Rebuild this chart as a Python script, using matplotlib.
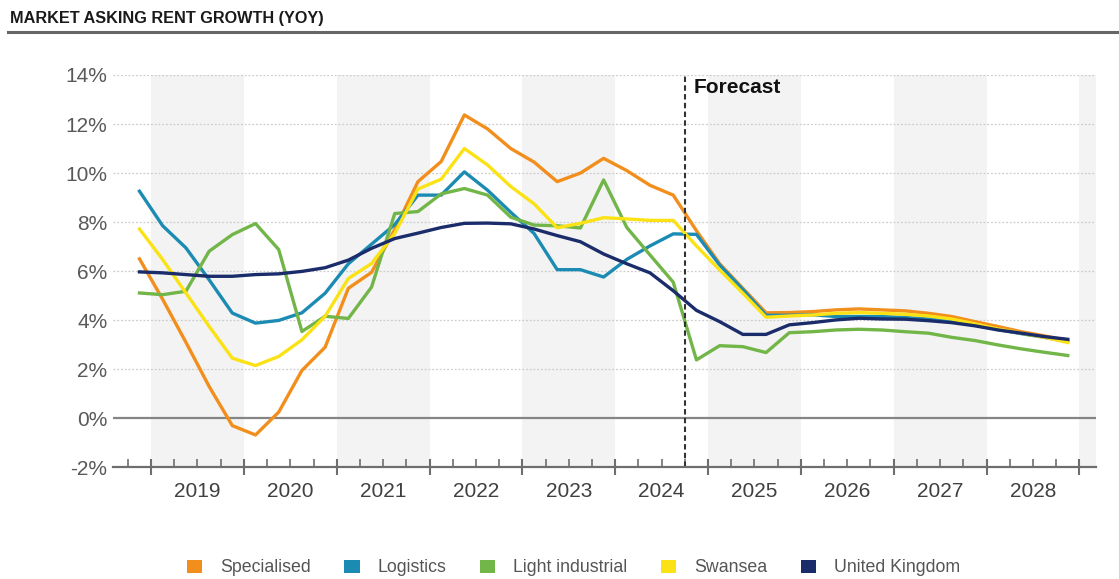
import matplotlib
matplotlib.use("Agg")
import matplotlib.pyplot as plt
from matplotlib.patches import Patch
import numpy as np
import pandas as pd

plt.rcParams['font.family'] = ['Liberation Sans', 'DejaVu Sans']

# quarterly series, 2018 Q4 .. 2028 Q4 (YoY %)
quarters = pd.period_range('2018Q4', '2028Q4', freq='Q')

specialised = [6.5, 4.85, 3.1, 1.3, -0.3, -0.68, 0.25, 1.95, 2.9, 5.3,
               5.95, 7.7, 9.65, 10.47, 12.37, 11.8, 11.0, 10.45, 9.65, 10.0,
               10.6, 10.1, 9.5, 9.1, 7.65, 6.3, 5.3, 4.3, 4.31, 4.35,
               4.42, 4.46, 4.42, 4.38, 4.28, 4.15, 3.94, 3.74, 3.53, 3.36, 3.17]
logistics = [9.26, 7.85, 6.95, 5.65, 4.29, 3.88, 3.99, 4.3, 5.1, 6.3,
             7.1, 7.9, 9.1, 9.1, 10.05, 9.3, 8.4, 7.54, 6.06, 6.06,
             5.76, 6.48, 7.03, 7.52, 7.5, 6.25, 5.25, 4.2, 4.2, 4.22,
             4.15, 4.15, 4.15, 4.11, 4.05, 3.95, 3.8, 3.62, 3.45, 3.3, 3.13]
light_industrial = [5.11, 5.04, 5.18, 6.81, 7.49, 7.94, 6.88, 3.54, 4.16, 4.07,
                    5.35, 8.35, 8.43, 9.15, 9.37, 9.1, 8.2, 7.88, 7.85, 7.76,
                    9.72, 7.78, 6.66, 5.55, 2.38, 2.96, 2.92, 2.68, 3.49, 3.53,
                    3.6, 3.63, 3.6, 3.53, 3.47, 3.3, 3.17, 2.99, 2.83, 2.69, 2.56]
swansea = [7.72, 6.47, 5.11, 3.75, 2.45, 2.15, 2.52, 3.2, 4.16, 5.7,
           6.31, 7.54, 9.35, 9.75, 11.0, 10.33, 9.45, 8.75, 7.77, 7.95,
           8.18, 8.13, 8.07, 8.07, 7.03, 6.05, 5.1, 4.12, 4.17, 4.21,
           4.28, 4.31, 4.28, 4.24, 4.17, 4.05, 3.85, 3.64, 3.47, 3.3, 3.09]
united_kingdom = [5.97, 5.93, 5.86, 5.79, 5.79, 5.86, 5.89, 5.99, 6.14, 6.45,
                  6.93, 7.33, 7.55, 7.78, 7.95, 7.96, 7.93, 7.72, 7.45, 7.2,
                  6.7, 6.3, 5.93, 5.2, 4.4, 3.94, 3.42, 3.42, 3.81, 3.9,
                  4.01, 4.08, 4.05, 4.04, 3.98, 3.9, 3.77, 3.6, 3.47, 3.33, 3.22]

series_names = ['Specialised', 'Logistics', 'Light industrial', 'Swansea', 'United Kingdom']
series_colors = ['#F28E1C', '#1C8BB3', '#72B548', '#FBE214', '#1B2C6B']
years = list(range(2019, 2029))
yticks = [-2, 0, 2, 4, 6, 8, 10, 12, 14]
forecast_start = 2024.75

# x position = middle of each quarter
x = np.array([q.year + (q.quarter - 0.5) / 4 for q in quarters])

fig = plt.figure(figsize=(11.19, 5.79), dpi=100)
ax = fig.add_axes([0.101, 0.1929, 0.8785, 0.6776])

# alternating year bands
for yr in range(2019, 2030, 2):
    ax.axvspan(yr, yr + 1, color='#f3f3f3', lw=0, zorder=0)

for yv in yticks[2:]:
    ax.axhline(yv, color='#cccccc', lw=0.9, ls=(0, (1.5, 1.5)), zorder=1)
ax.axhline(0, color='#858585', lw=1.6, zorder=1)

all_series = [specialised, logistics, light_industrial, swansea, united_kingdom]
for vals, name, col in zip(all_series, series_names, series_colors):
    ax.plot(x, vals, color=col, lw=2.4, label=name, zorder=3)

ax.axvline(forecast_start, color='#333333', lw=1.5, ls=(0, (2.6, 1.6)), zorder=4)
ax.text(forecast_start + 0.1, 13.5, 'Forecast', fontsize=15, fontweight='bold',
        va='center', ha='left', color='#111111')

ax.set_xlim(2018.59, 2029.18)
ax.set_ylim(-2, 14)

ax.set_yticks(yticks)
ax.set_yticklabels([f'{v}%' for v in yticks])
ax.tick_params(axis='y', length=0, pad=4, labelsize=15, labelcolor='#595959')

ax.set_xticks(range(2019, 2030))
ax.set_xticklabels([])
ax.set_xticks(np.arange(2018.75, 2029.0, 0.25), minor=True)
ax.tick_params(axis='x', which='major', direction='inout', length=12, width=1.5, color='#6e6e6e')
ax.tick_params(axis='x', which='minor', direction='in', length=6, width=1.2, color='#6e6e6e')

# year names sit in the middle of each year
for yr in years:
    ax.text(yr + 0.5, -2.6, str(yr), ha='center', va='top', fontsize=15, color='#404040')

for s in ['top', 'right', 'left']:
    ax.spines[s].set_visible(False)
ax.spines['bottom'].set_color('#6e6e6e')
ax.spines['bottom'].set_linewidth(1.6)
ax.spines['bottom'].set_zorder(5)

# header
fig.text(0.009, 1 - 18.5 / 579, 'MARKET ASKING RENT GROWTH (YOY)', fontsize=11.7,
         fontweight='bold', va='center', ha='left', color='#1a1a1a')
fig.add_artist(plt.Line2D([0.007, 1.0], [1 - 32 / 579, 1 - 32 / 579], color='#666666', lw=2.2))

handles = [Patch(facecolor=c, edgecolor='none') for c in series_colors]
fig.legend(handles, series_names, loc='center left', bbox_to_anchor=(187 / 1119, 11 / 579),
           ncol=5, frameon=False, fontsize=12.8, handlelength=0.85, handleheight=0.8,
           handletextpad=1.0, columnspacing=1.9, borderpad=0, borderaxespad=0,
           labelcolor='#555555')

fig.savefig('out.png', dpi=100)
